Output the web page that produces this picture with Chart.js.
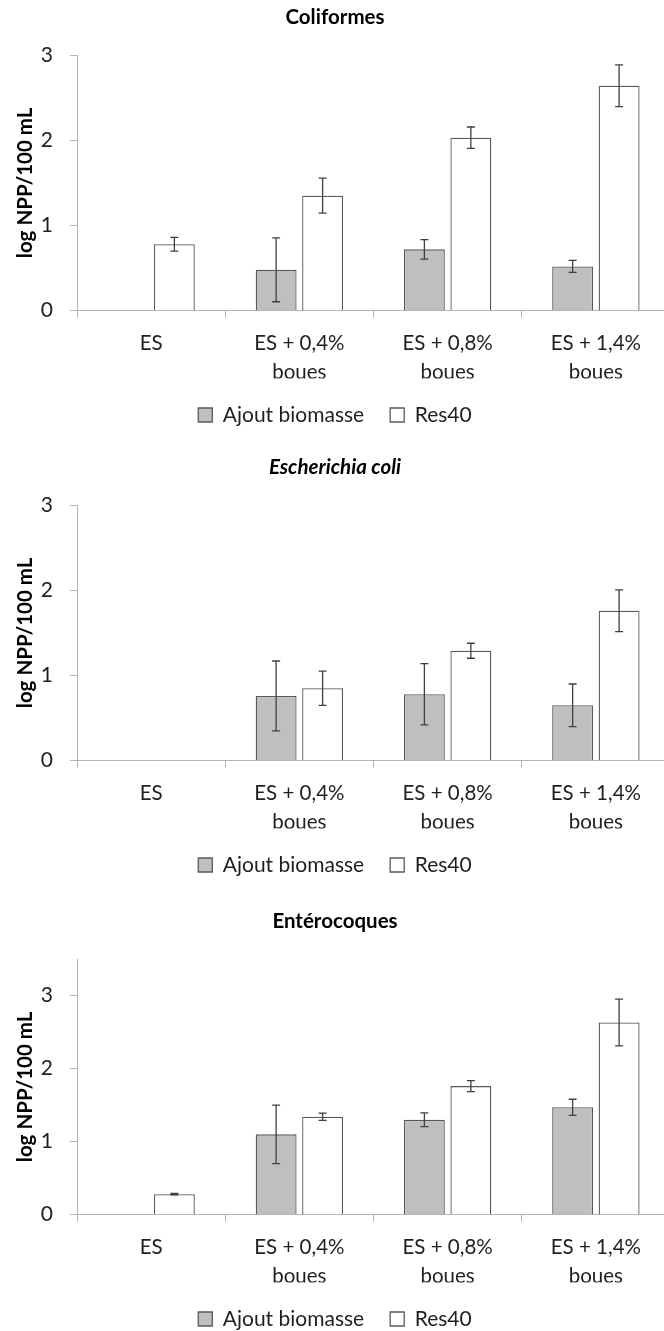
<!DOCTYPE html>
<html>
<head>
<meta charset="utf-8">
<script src="https://cdn.jsdelivr.net/npm/chart.js@4/dist/chart.umd.min.js"></script>
<style>
    body { margin: 0; background: #fff; width: 664px; height: 1331px; overflow: hidden; position: relative; }
    canvas { position: absolute; left: 0; }
</style>
</head>
<body>
<canvas id="chart-coli" width="680" height="440" style="top:0px"></canvas>
<canvas id="chart-ecoli" width="680" height="440" style="top:450px"></canvas>
<canvas id="chart-entero" width="680" height="440" style="top:904px"></canvas>
<script>
const categories = ['ES', ['ES + 0,4%', 'boues'], ['ES + 0,8%', 'boues'], ['ES + 1,4%', 'boues']];
const seriesNames = ['Ajout biomasse', 'Res40'];

// Coliformes
const coliAjout = [null, 0.48, 0.72, 0.52];
const coliAjoutErr = [null, 0.375, 0.115, 0.07];
const coliRes40 = [0.78, 1.35, 2.03, 2.64];
const coliRes40Err = [0.08, 0.205, 0.125, 0.245];

// Escherichia coli
const ecoliAjout = [null, 0.76, 0.78, 0.65];
const ecoliAjoutErr = [null, 0.41, 0.36, 0.25];
const ecoliRes40 = [null, 0.85, 1.29, 1.76];
const ecoliRes40Err = [null, 0.2, 0.088, 0.245];

// Entérocoques
const enteroAjout = [null, 1.10, 1.30, 1.47];
const enteroAjoutErr = [null, 0.40, 0.095, 0.11];
const enteroRes40 = [0.28, 1.34, 1.76, 2.63];
const enteroRes40Err = [0.01, 0.05, 0.075, 0.32];

const FONT = 'Lato, "Open Sans", sans-serif';
const AXIS_GREY = '#b3b3b3';
const TEXT = '#1f1f1f';

// draws the +/- error bars on top of each bar
const errorBars = {
    id: 'errorBars',
    afterDatasetsDraw(chart) {
        const ctx = chart.ctx;
        const y = chart.scales.y;
        ctx.save();
        ctx.strokeStyle = '#404040';
        ctx.lineWidth = 1.3;
        chart.data.datasets.forEach((ds, i) => {
            const meta = chart.getDatasetMeta(i);
            meta.data.forEach((bar, j) => {
                const v = ds.data[j];
                const e = ds.errors[j];
                if (v == null || e == null) return;
                const top = y.getPixelForValue(v + e);
                const bot = y.getPixelForValue(Math.max(v - e, 0));
                ctx.beginPath();
                ctx.moveTo(bar.x, top); ctx.lineTo(bar.x, bot);
                ctx.moveTo(bar.x - 4, top); ctx.lineTo(bar.x + 4, top);
                ctx.moveTo(bar.x - 4, bot); ctx.lineTo(bar.x + 4, bot);
                ctx.stroke();
            });
        });
        ctx.restore();
    }
};

function makeChart(id, title, italic, ajout, ajoutErr, res, resErr, yMax) {
    const ctx = document.getElementById(id).getContext('2d');
    return new Chart(ctx, {
        type: 'bar',
        data: {
            labels: categories,
            datasets: [{
                label: seriesNames[0],
                data: ajout,
                errors: ajoutErr,
                backgroundColor: '#bfbfbf',
                borderColor: '#595959',
                borderWidth: 1.3
            }, {
                label: seriesNames[1],
                data: res,
                errors: resErr,
                backgroundColor: '#ffffff',
                borderColor: '#595959',
                borderWidth: 1.3
            }]
        },
        options: {
            responsive: false,
            animation: false,
            devicePixelRatio: 1,
            layout: { padding: { right: 10, bottom: 4.5 } },
            categoryPercentage: 0.627,
            barPercentage: 0.88,
            plugins: {
                title: {
                    display: true,
                    text: title,
                    color: '#000',
                    font: { family: FONT, size: 20.5, weight: 'bold', style: italic ? 'italic' : 'normal' },
                    padding: { top: 4.7, bottom: 25.7 }
                },
                legend: {
                    position: 'bottom',
                    labels: {
                        color: TEXT,
                        font: { family: FONT, size: 21 },
                        boxWidth: 14,
                        boxHeight: 14,
                        padding: 26
                    }
                },
                tooltip: { enabled: false }
            },
            scales: {
                x: {
                    grid: { drawOnChartArea: false, tickLength: 7, color: AXIS_GREY },
                    border: { color: AXIS_GREY },
                    ticks: {
                        color: TEXT,
                        maxRotation: 0,
                        padding: 11,
                        font: { family: FONT, size: 20.5, lineHeight: 1.42 }
                    },
                    afterFit(scale) { scale.height = 67.8; }
                },
                y: {
                    min: 0,
                    max: yMax,
                    grid: { drawOnChartArea: false, tickLength: 7, color: AXIS_GREY },
                    border: { color: AXIS_GREY },
                    ticks: {
                        stepSize: 1,
                        includeBounds: false,
                        color: TEXT,
                        padding: 17,
                        font: { family: FONT, size: 21 }
                    },
                    title: {
                        display: true,
                        text: 'log NPP/100 mL',
                        color: '#000',
                        font: { family: FONT, size: 20.5, weight: 'bold' },
                        padding: { top: 12.7, bottom: 0 }
                    },
                    afterFit(scale) { scale.width = 77; }
                }
            }
        },
        plugins: [errorBars]
    });
}

makeChart('chart-coli', 'Coliformes', false, coliAjout, coliAjoutErr, coliRes40, coliRes40Err, 3);
makeChart('chart-ecoli', 'Escherichia coli', true, ecoliAjout, ecoliAjoutErr, ecoliRes40, ecoliRes40Err, 3);
makeChart('chart-entero', 'Entérocoques', false, enteroAjout, enteroAjoutErr, enteroRes40, enteroRes40Err, 3.5);
</script>
</body>
</html>
